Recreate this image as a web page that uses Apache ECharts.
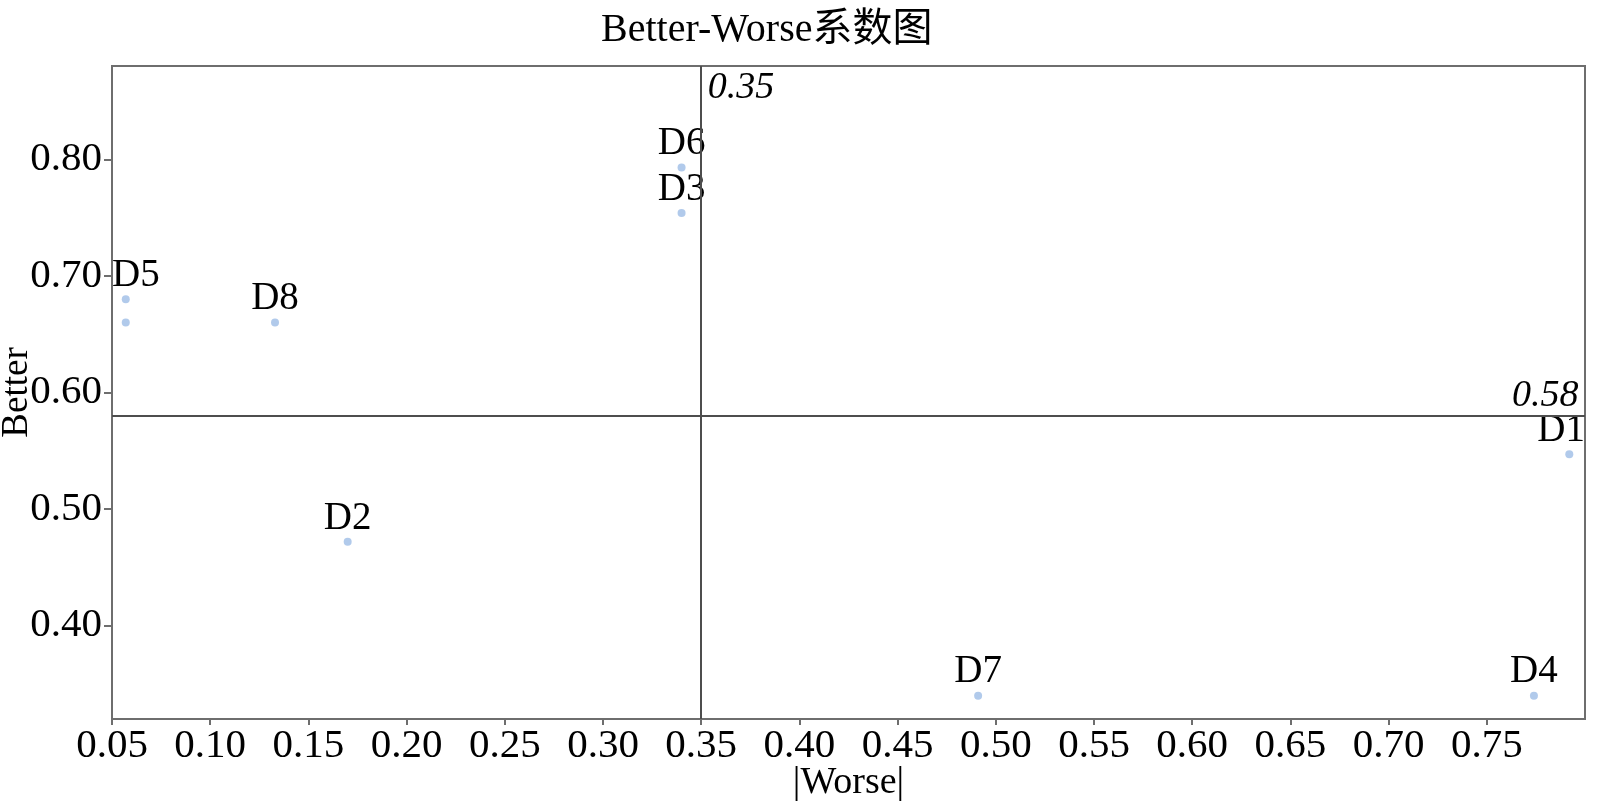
<!DOCTYPE html>
<html>
<head>
<meta charset="utf-8">
<title>Better-Worse系数图</title>
<script src="https://cdn.jsdelivr.net/npm/echarts@6/dist/echarts.min.js"></script>
<style>
    html, body { margin: 0; padding: 0; background: #fff; }
    #main { width: 1600px; height: 811px; }
</style>
</head>
<body>
<div id="main"></div>
<script>
    // 数据
    var names = ['D1', 'D2', 'D3', 'D4', 'D5', '', 'D6', 'D7', 'D8'];
    var worse = [0.792, 0.170, 0.340, 0.774, 0.057, 0.057, 0.340, 0.491, 0.133];
    var better = [0.547, 0.472, 0.754, 0.340, 0.680, 0.660, 0.793, 0.340, 0.660];
    // 平均线
    var worseAvg = 0.35;
    var betterAvg = 0.58;
    // 坐标轴范围
    var xMin = 0.05, xMax = 0.80, xStep = 0.05;
    var yMin = 0.32, yMax = 0.88;

    var font = "'Liberation Serif', 'Times New Roman', 'Noto Sans CJK SC', serif";
    var gridLeft = 112, gridRight = 15;

    var points = [];
    for (var i = 0; i < names.length; i++) {
        points.push({ name: names[i], value: [worse[i], better[i]] });
    }

    var mychart = echarts.init(document.getElementById('main'));
    var option = {
        animation: false,
        backgroundColor: '#fff',
        title: {
            text: 'Better-Worse系数图',
            left: 596,
            top: 6,
            textStyle: {
                fontFamily: font,
                fontSize: 40,
                fontWeight: 'normal',
                color: '#000'
            }
        },
        grid: {
            left: gridLeft,
            right: gridRight,
            top: 66,
            bottom: 92,
            containLabel: false,
            outerBoundsMode: 'none',
            show: true,
            borderColor: '#6e6e6e',
            borderWidth: 2
        },
        xAxis: {
            type: 'value',
            min: xMin,
            max: xMax,
            interval: xStep,
            name: '|Worse|',
            nameLocation: 'middle',
            nameGap: 45,
            nameMoveOverlap: false,
            nameTextStyle: { fontFamily: font, fontSize: 38, color: '#000' },
            axisLine: { show: true, lineStyle: { color: '#6e6e6e', width: 2 } },
            axisTick: { show: true, length: 6, lineStyle: { color: '#6e6e6e', width: 2 } },
            splitLine: { show: false },
            axisLabel: {
                showMaxLabel: false,
                margin: 7,
                fontFamily: font,
                fontSize: 41,
                color: '#000',
                formatter: function (v) { return v.toFixed(2); }
            }
        },
        yAxis: {
            type: 'value',
            min: yMin,
            max: yMax,
            splitNumber: 6,
            name: 'Better',
            nameLocation: 'middle',
            nameGap: 76,
            nameMoveOverlap: false,
            nameTextStyle: { fontFamily: font, fontSize: 37, color: '#000' },
            axisLine: { show: true, lineStyle: { color: '#6e6e6e', width: 2 } },
            axisTick: { show: true, length: 8, lineStyle: { color: '#6e6e6e', width: 2 } },
            splitLine: { show: false },
            axisLabel: {
                showMinLabel: false,
                showMaxLabel: false,
                margin: 10,
                fontFamily: font,
                fontSize: 41,
                color: '#000',
                formatter: function (v) { return v.toFixed(2); }
            }
        },
        series: [{
            type: 'scatter',
            data: points,
            symbolSize: 8,
            itemStyle: { color: '#9dbde6' },
            label: {
                show: true,
                position: 'top',
                distance: 0,
                formatter: '{b}',
                fontFamily: font,
                fontSize: 39,
                color: '#000',
                opacity: 1
            },
            // 标签不超出绘图区
            labelLayout: function (params) {
                var r = params.labelRect;
                var left = gridLeft, right = mychart.getWidth() - gridRight;
                if (r.x < left) {
                    return { dx: left - r.x };
                }
                if (r.x + r.width > right) {
                    return { dx: right - r.x - r.width };
                }
                return {};
            },
            markLine: {
                silent: true,
                symbol: 'none',
                lineStyle: { color: '#4d4d4d', width: 2, type: 'solid' },
                label: { show: false },
                data: [{ xAxis: worseAvg }, { yAxis: betterAvg }]
            },
            markPoint: {
                silent: true,
                symbol: 'circle',
                symbolSize: 1,
                itemStyle: { color: 'transparent' },
                label: {
                    show: true,
                    fontFamily: font,
                    fontSize: 38,
                    fontStyle: 'italic',
                    color: '#000',
                    formatter: function (p) { return p.value.toFixed(2); }
                },
                data: [
                    { coord: [worseAvg, yMax], value: worseAvg,
                      label: { position: [7, 4], align: 'left', verticalAlign: 'top' } },
                    { coord: [xMax, betterAvg], value: betterAvg,
                      label: { position: [-6, 0], align: 'right', verticalAlign: 'bottom' } }
                ]
            }
        }]
    };
    mychart.setOption(option);
</script>
</body>
</html>
